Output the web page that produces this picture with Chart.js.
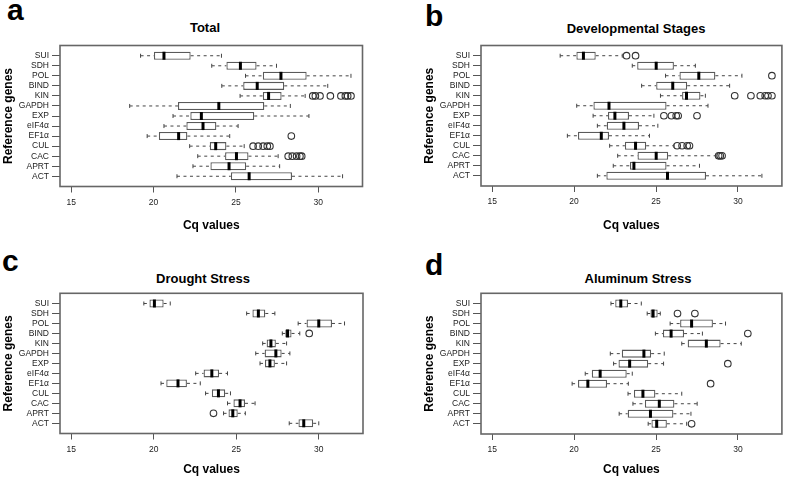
<!DOCTYPE html>
<html>
<head>
<meta charset="utf-8">
<script src="https://cdn.jsdelivr.net/npm/chart.js@4.4.1/dist/chart.umd.min.js"></script>
<style>
  html, body { margin: 0; padding: 0; background: #fff; }
  body { width: 787px; height: 481px; position: relative; overflow: hidden;
         font-family: 'Liberation Sans', Arial, sans-serif; }
  .letter { position: absolute; font-weight: bold; font-size: 30px; line-height: 30px; color: #000; }
  .title { position: absolute; font-weight: bold; font-size: 13px; line-height: 13px;
           transform: translate(-50%, -50%); white-space: nowrap; color: #000; }
</style>
</head>
<body>
<script>
// genes from bottom (position 1) to top (position 13), like R's boxplot
const genes = ['ACT', 'APRT', 'CAC', 'CUL', 'EF1α', 'eIF4α', 'EXP', 'GAPDH', 'KIN', 'BIND', 'POL', 'SDH', 'SUI'];
const xTicks = [15, 20, 25, 30];
const xLimits = [15, 32];
const panelLetters = ['a', 'b', 'c', 'd'];
const panelTitles = ['Total', 'Developmental Stages', 'Drought Stress', 'Aluminum Stress'];
const xAxisTitle = 'Cq values';
const yAxisTitle = 'Reference genes';

// [lower whisker, Q1, median, Q3, upper whisker] per gene, same order as genes
const totalStats = [
  [21.42, 24.69, 25.80, 28.40, 31.47],
  [22.39, 23.45, 24.58, 25.62, 27.65],
  [22.68, 24.34, 25.03, 25.76, 27.56],
  [22.19, 23.41, 23.77, 24.42, 25.50],
  [19.61, 20.32, 21.52, 22.05, 24.62],
  [20.63, 21.99, 23.00, 23.81, 25.13],
  [21.18, 22.23, 22.90, 26.11, 29.43],
  [18.55, 21.48, 23.96, 26.72, 28.30],
  [25.25, 26.63, 26.98, 27.77, 29.20],
  [24.14, 25.44, 26.29, 27.93, 30.57],
  [25.58, 26.63, 27.73, 29.29, 31.98],
  [23.53, 24.42, 25.27, 26.25, 27.46],
  [19.21, 20.02, 20.63, 22.25, 24.12]
];
const totalOutliers = [
  [], [], [28.17, 28.42, 28.68, 28.88, 28.99], [26.04, 26.35, 26.65, 26.90, 27.06],
  [28.36], [], [], [], [29.66, 29.82, 30.10, 30.73, 31.37, 31.64, 31.78, 31.98],
  [], [], [], []
];

const devStats = [
  [21.42, 21.97, 25.70, 28.05, 31.46],
  [22.39, 23.41, 23.65, 25.64, 27.65],
  [22.66, 23.87, 25.01, 25.74, 28.66],
  [22.17, 23.10, 23.75, 24.40, 26.09],
  [19.59, 20.24, 21.66, 22.13, 24.60],
  [21.42, 21.99, 23.04, 23.96, 25.11],
  [21.16, 22.07, 22.49, 23.35, 24.87],
  [20.16, 21.18, 22.13, 25.64, 28.17],
  [25.27, 26.59, 26.86, 27.71, 28.01],
  [24.12, 25.01, 26.02, 26.90, 29.49],
  [25.58, 26.43, 27.61, 28.62, 30.24],
  [23.55, 23.85, 25.01, 26.09, 27.40],
  [19.15, 20.14, 20.57, 21.32, 22.94]
];
const devOutliers = [
  [], [], [28.82, 28.92, 29.03], [26.29, 26.59, 26.90, 27.04],
  [], [], [25.48, 25.94, 26.23, 26.35, 27.50], [], [29.80, 30.79, 31.36, 31.66, 31.83, 32.07],
  [], [32.07], [], [23.20, 23.75]
];

const droughtStats = [
  [28.21, 28.77, 29.09, 29.66, 30.00],
  [24.23, 24.53, 24.79, 25.09, 25.55],
  [24.47, 24.83, 25.23, 25.53, 26.14],
  [23.14, 23.52, 23.92, 24.33, 24.65],
  [20.44, 20.76, 21.47, 22.01, 22.82],
  [22.54, 23.02, 23.52, 23.96, 24.47],
  [26.44, 26.74, 27.04, 27.34, 28.05],
  [26.18, 26.72, 27.40, 27.75, 28.25],
  [26.60, 26.84, 27.10, 27.40, 28.05],
  [27.79, 27.97, 28.11, 28.35, 28.85],
  [28.75, 29.26, 30.00, 30.80, 31.56],
  [25.63, 25.98, 26.34, 26.76, 27.34],
  [19.40, 19.74, 20.04, 20.60, 21.00]
];
const droughtOutliers = [
  [], [23.62], [], [], [], [], [], [], [], [29.42], [], [], []
];

const aluminumStats = [
  [24.52, 24.72, 25.04, 25.66, 26.87],
  [22.75, 23.27, 24.66, 26.06, 27.13],
  [23.59, 24.32, 25.20, 26.12, 27.51],
  [23.29, 23.65, 24.20, 24.96, 26.57],
  [19.88, 20.24, 20.84, 22.01, 23.31],
  [20.68, 21.08, 21.59, 23.21, 23.55],
  [22.41, 22.71, 23.39, 24.52, 25.46],
  [22.21, 22.91, 24.26, 24.70, 25.50],
  [26.57, 26.93, 28.07, 28.94, 30.20],
  [24.96, 25.42, 25.92, 26.71, 27.83],
  [25.86, 26.47, 27.17, 28.47, 29.24],
  [24.46, 24.66, 24.82, 25.10, 25.26],
  [22.25, 22.51, 22.85, 23.29, 24.10]
];
const aluminumOutliers = [
  [27.17], [], [], [], [28.33], [], [29.38], [], [], [30.60], [], [26.31, 27.37], []
];

Chart.defaults.font.family = "'Liberation Sans', Arial, sans-serif";

// page layout of the four panels
const panels = [
  { stats: totalStats, out: totalOutliers, left: 0, top: 0, w: 394, h: 240,
    plotL: 60, plotR: 362.5, plotT: 45.5, plotB: 186.5, yTitleX: 8.5, xTitleY: 225.7,
    titleX: 205, titleY: 27, letterX: 7, letterY: -5 },
  { stats: devStats, out: devOutliers, left: 394, top: 0, w: 393, h: 240,
    plotL: 481, plotR: 784.5, plotT: 45.5, plotB: 186, yTitleX: 430, xTitleY: 225.7,
    titleX: 636, titleY: 27.5, letterX: 425, letterY: 1 },
  { stats: droughtStats, out: droughtOutliers, left: 0, top: 240, w: 394, h: 241,
    plotL: 60, plotR: 363, plotT: 293.3, plotB: 433.5, yTitleX: 9, xTitleY: 470,
    titleX: 203, titleY: 277.5, letterX: 2, letterY: 246 },
  { stats: aluminumStats, out: aluminumOutliers, left: 394, top: 240, w: 393, h: 241,
    plotL: 481, plotR: 784, plotT: 293.3, plotB: 434, yTitleX: 430, xTitleY: 470,
    titleX: 638, titleY: 277.5, letterX: 425, letterY: 249.5 }
];

function boxExtras(stats) {
  return {
    id: 'boxExtras',
    afterDatasetsDraw(chart) {
      const { ctx, chartArea, scales: { x, y } } = chart;
      ctx.save();
      stats.forEach((s, i) => {
        const pos = i + 1;
        const yc = y.getPixelForValue(pos);
        const capA = y.getPixelForValue(pos + 0.2), capB = y.getPixelForValue(pos - 0.2);
        const lo = x.getPixelForValue(s[0]), q1 = x.getPixelForValue(s[1]);
        const q3 = x.getPixelForValue(s[3]), hi = x.getPixelForValue(s[4]);
        ctx.strokeStyle = '#444';
        ctx.lineWidth = 1;
        ctx.setLineDash([3, 3.5]);
        ctx.beginPath();
        ctx.moveTo(lo, yc); ctx.lineTo(q1, yc);
        ctx.moveTo(q3, yc); ctx.lineTo(hi, yc);
        ctx.stroke();
        ctx.setLineDash([]);
        ctx.beginPath();
        ctx.moveTo(lo, capA); ctx.lineTo(lo, capB);
        ctx.moveTo(hi, capA); ctx.lineTo(hi, capB);
        ctx.stroke();
        // median
        const m = x.getPixelForValue(s[2]);
        ctx.strokeStyle = '#000';
        ctx.lineWidth = 3;
        ctx.lineCap = 'butt';
        ctx.beginPath();
        ctx.moveTo(m, y.getPixelForValue(pos + 0.4));
        ctx.lineTo(m, y.getPixelForValue(pos - 0.4));
        ctx.stroke();
      });
      ctx.strokeStyle = '#666';
      ctx.lineWidth = 1.6;
      ctx.strokeRect(chartArea.left, chartArea.top, chartArea.right - chartArea.left, chartArea.bottom - chartArea.top);
      ctx.restore();
    }
  };
}

panels.forEach((p, k) => {
  const letter = document.createElement('div');
  letter.className = 'letter';
  letter.style.left = p.letterX + 'px';
  letter.style.top = p.letterY + 'px';
  letter.textContent = panelLetters[k];
  document.body.appendChild(letter);

  const title = document.createElement('div');
  title.className = 'title';
  title.style.left = p.titleX + 'px';
  title.style.top = p.titleY + 'px';
  title.textContent = panelTitles[k];
  document.body.appendChild(title);

  const canvas = document.createElement('canvas');
  canvas.width = p.w;
  canvas.height = p.h;
  canvas.style.cssText = `position:absolute;left:${p.left}px;top:${p.top}px;width:${p.w}px;height:${p.h}px`;
  document.body.appendChild(canvas);

  const ext = (xLimits[1] - xLimits[0]) * 0.04;
  const yExt = genes.length * 0.04;
  const boxes = p.stats.map((s, i) => ({ x: [s[1], s[3]], y: i + 1 }));
  const outs = [];
  p.out.forEach((vals, i) => vals.forEach(v => outs.push({ x: v, y: i + 1 })));

  new Chart(canvas, {
    type: 'scatter',
    data: {
      datasets: [{
        type: 'bar',
        indexAxis: 'y',
        data: boxes,
        backgroundColor: '#fff',
        borderColor: '#5a5a5a',
        borderWidth: 1.3,
        borderSkipped: false,
        categoryPercentage: 1,
        barPercentage: 0.8
      }, {
        type: 'scatter',
        data: outs,
        pointStyle: 'circle',
        pointRadius: 3.3,
        pointBorderWidth: 1.1,
        pointBorderColor: '#333',
        pointBackgroundColor: 'rgba(0,0,0,0)'
      }]
    },
    options: {
      responsive: false,
      animation: false,
      events: [],
      layout: { padding: { left: 0, top: p.plotT - p.top, right: p.left + p.w - p.plotR, bottom: 0 } },
      plugins: { legend: { display: false }, tooltip: { enabled: false } },
      scales: {
        x: {
          type: 'linear',
          min: xLimits[0] - ext,
          max: xLimits[1] + ext,
          offset: false,
          afterBuildTicks: s => { s.ticks = xTicks.map(v => ({ value: v })); },
          afterFit: s => { s.height = p.top + p.h - p.plotB; },
          grid: { drawOnChartArea: false, drawTicks: true, tickLength: 6, color: '#555', offset: false },
          border: { display: false },
          ticks: { font: { size: 8.5 }, color: '#222', padding: 5, maxRotation: 0, autoSkip: false },
          title: {
            display: true, text: xAxisTitle, color: '#000',
            font: { size: 12, weight: 'bold' },
            padding: { top: 0, bottom: p.top + p.h - p.xTitleY - 7.2 }
          }
        },
        y: {
          type: 'linear',
          min: 0.5 - yExt,
          max: genes.length + 0.5 + yExt,
          offset: false,
          afterBuildTicks: s => { s.ticks = genes.map((g, i) => ({ value: i + 1 })); },
          afterFit: s => { s.width = p.plotL - p.left; },
          grid: { drawOnChartArea: false, drawTicks: true, tickLength: 8, color: '#555', offset: false },
          border: { display: false },
          ticks: {
            font: { size: 8.5 }, color: '#222', padding: 3, autoSkip: false,
            callback: v => genes[v - 1]
          },
          title: {
            display: true, text: yAxisTitle, color: '#000',
            font: { size: 12, weight: 'bold' },
            padding: { top: p.yTitleX - p.left - 7.2, bottom: 0 }
          }
        }
      }
    },
    plugins: [boxExtras(p.stats)]
  });
});
</script>
</body>
</html>
